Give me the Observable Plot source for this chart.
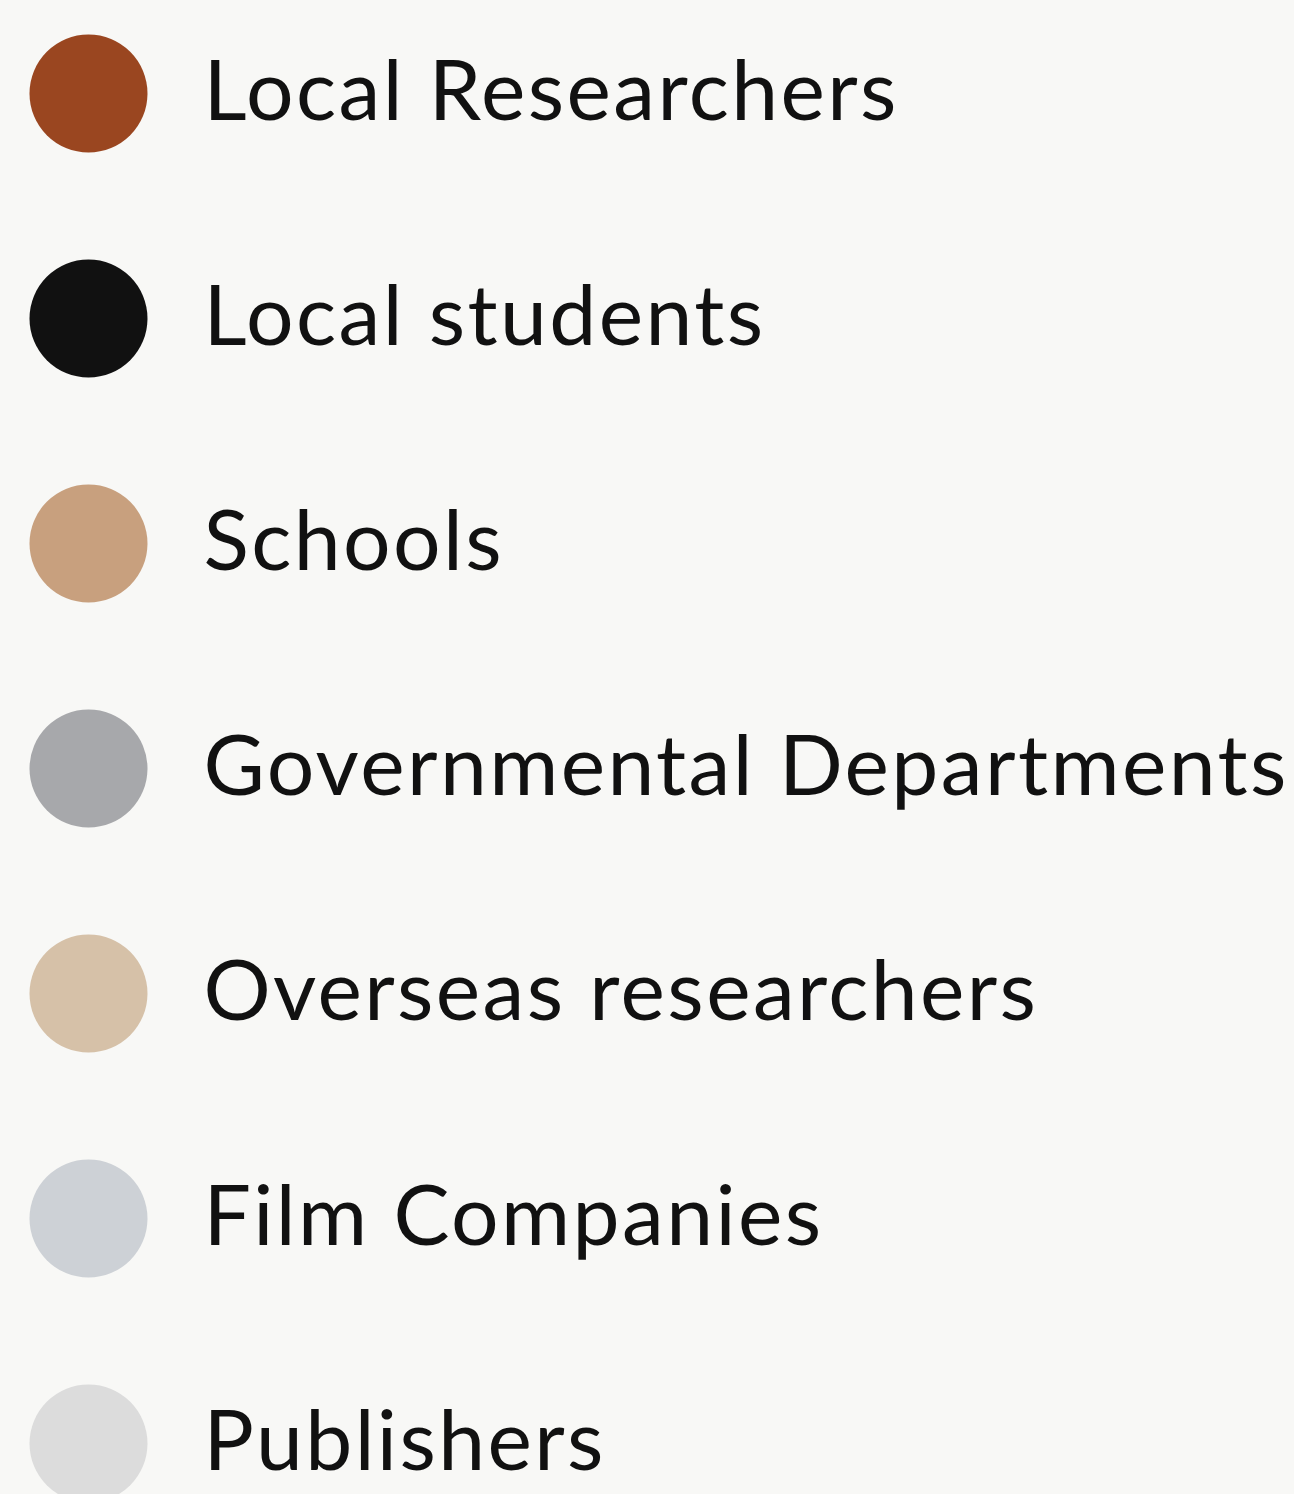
<!DOCTYPE html>
<html>
<head>
<meta charset="utf-8">
<script src="https://cdn.jsdelivr.net/npm/d3@7"></script>
<script src="https://cdn.jsdelivr.net/npm/@observablehq/plot@0.6"></script>
<style>
  html, body { margin: 0; padding: 0; background: #f8f8f6; }
  #chart svg { display: block; }
  #chart svg text { letter-spacing: 2.4px; }
</style>
</head>
<body>
<div id="chart"></div>
<script>
const categories = [
  "Local Researchers",
  "Local students",
  "Schools",
  "Governmental Departments",
  "Overseas researchers",
  "Film Companies",
  "Publishers"
];
const colors = ["#9a4620", "#111111", "#c8a07e", "#a7a8ab", "#d6c1a8", "#cdd1d6", "#dcdcdc"];

const data = categories.map((c, i) => ({ category: c, color: colors[i] }));

const chart = Plot.plot({
  width: 1294,
  height: 1494,
  marginTop: 91,
  marginBottom: 49,
  marginLeft: 0,
  marginRight: 0,
  style: { background: "#f8f8f6", fontFamily: "Lato, sans-serif" },
  y: { type: "point", domain: categories, axis: null, padding: 0 },
  color: { type: "identity" },
  marks: [
    Plot.dot(data, { y: "category", fill: "color", r: 59, frameAnchor: "left", dx: 88 }),
    Plot.text(data, {
      y: "category", text: "category", frameAnchor: "left", textAnchor: "start",
      dx: 203, fontSize: 84, fill: "#111", lineAnchor: "middle"
    })
  ]
});
document.getElementById("chart").appendChild(chart);
</script>
</body>
</html>
